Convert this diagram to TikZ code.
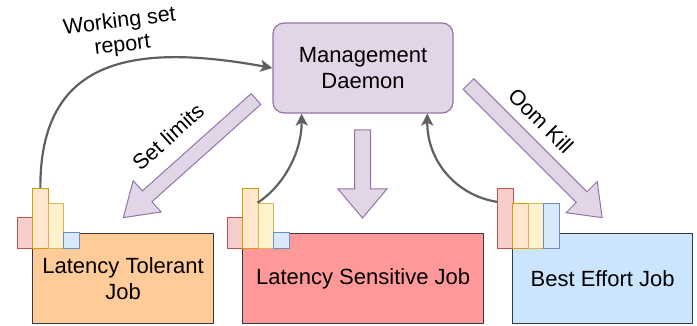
\documentclass[tikz,border=0pt]{standalone}
\usepackage{fontspec}
\setmainfont{Liberation Sans}
\usetikzlibrary{arrows.meta,calc}

\definecolor{purpfill}{HTML}{E1D5E7}
\definecolor{purpline}{HTML}{9673A6}
\definecolor{orfill}{HTML}{FFE6CC}
\definecolor{orline}{HTML}{D79B00}
\definecolor{yefill}{HTML}{FFF2CC}
\definecolor{yeline}{HTML}{D6B656}
\definecolor{blfill}{HTML}{DAE8FC}
\definecolor{blline}{HTML}{6C8EBF}
\definecolor{pkfill}{HTML}{F8CECC}
\definecolor{pkline}{HTML}{B85450}
\definecolor{ltfill}{HTML}{FFCC99}
\definecolor{lsfill}{HTML}{FF9999}
\definecolor{befill}{HTML}{CCE5FF}
\definecolor{boxline}{HTML}{36393D}
\definecolor{flowgray}{HTML}{606060}

% block arrow: start point, angle, total length, shaft half width, head half width, head length
\newcommand\blockarrow[6]{%
  \draw[bigarrow, shift={#1}, rotate=#2]
    (0,-#4) -- ({#3-#6},-#4) -- ({#3-#6},-#5) -- (#3,0)
    -- ({#3-#6},#5) -- ({#3-#6},#4) -- (0,#4) -- cycle;}

\begin{document}
\begin{tikzpicture}[x=1pt,y=-1pt,
  job/.style={draw=boxline, line width=1.2pt, anchor=north west,
    minimum height=90, align=center, inner sep=0pt,
    font=\fontsize{22}{25.5}\selectfont},
  daemon/.style={draw=purpline, fill=purpfill, line width=1.2pt,
    rounded corners=11pt, minimum width=180, minimum height=90,
    align=center, font=\fontsize{22}{26}\selectfont},
  bar/.style={line width=1.2pt, anchor=south west, inner sep=0pt,
    minimum width=15.5},
  bigarrow/.style={draw=purpline, fill=purpfill, line width=1pt},
  flow/.style={draw=flowgray, line width=2.2pt,
    -{Stealth[length=12pt,width=12pt,inset=3pt]}},
  lbl/.style={font=\fontsize{21.5}{24}\selectfont, align=center, inner sep=0pt}]

\useasboundingbox (0,0) rectangle (697,326);

% management daemon
\node[daemon] (md) at (363,68) {Management\\Daemon};

% job boxes
\node[job, fill=ltfill, minimum width=181] (lt) at (32,233) {Latency Tolerant\\Job};
\node[job, fill=lsfill, minimum width=241] (ls) at (242,233) {Latency Sensitive Job};
\node[job, fill=befill, minimum width=180] (be) at (512,233) {Best Effort Job};

% resource bars of the latency tolerant job
\node[bar, draw=pkline, fill=pkfill, minimum height=31] (ltP) at (17,249) {};
\node[bar, draw=orline, fill=orfill, minimum height=60] (ltO) at (32,249) {};
\node[bar, draw=yeline, fill=yefill, minimum height=45] (ltY) at (47.5,249) {};
\node[bar, draw=blline, fill=blfill, minimum height=16] (ltB) at (63,249) {};

% resource bars of the latency sensitive job
\node[bar, draw=pkline, fill=pkfill, minimum height=31] (lsP) at (227,249) {};
\node[bar, draw=orline, fill=orfill, minimum height=60] (lsO) at (242,249) {};
\node[bar, draw=yeline, fill=yefill, minimum height=45] (lsY) at (257.5,249) {};
\node[bar, draw=blline, fill=blfill, minimum height=16] (lsB) at (273,249) {};

% resource bars of the best effort job
\node[bar, draw=pkline, fill=pkfill, minimum height=60] (beP) at (497,249) {};
\node[bar, draw=orline, fill=orfill, minimum height=45] (beO) at (512,249) {};
\node[bar, draw=yeline, fill=yefill, minimum height=45] (beY) at (527.5,249) {};
\node[bar, draw=blline, fill=blfill, minimum height=45] (beB) at (543,249) {};

% control actions from the daemon
\blockarrow{(256,99)}{221.8}{178}{7.2}{21}{32}
\blockarrow{(362.5,130)}{270}{88}{8}{24.5}{29}
\blockarrow{(468.5,84)}{-45}{189}{7.5}{22}{29}

% reports flowing back to the daemon
\draw[flow] (ltO.north) .. controls (40,60) and (130,42) .. (md.west);
\draw[flow] (lsY.north west) .. controls (285,185) and (302,150)
  .. ($(md.south west)!0.161!(md.south east)$);
\draw[flow] ($(beP.north west)!0.23!(beP.south west)$)
  .. controls (455,195) and (427,160)
  .. ($(md.south west)!0.855!(md.south east)$);

% labels
\node[lbl, rotate=7] (wsr) at (121,34) {Working set\\report};
\node[lbl, rotate=42] (sl) at (168,137) {Set limits};
\node[lbl, rotate=-45] (ok) at (541,121) {Oom Kill};

\end{tikzpicture}
\end{document}
